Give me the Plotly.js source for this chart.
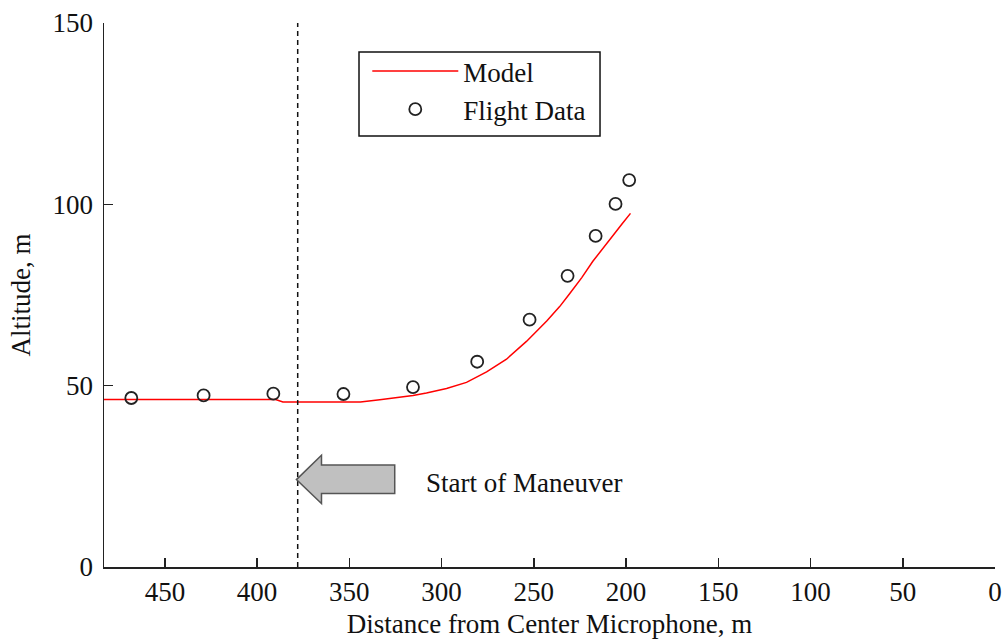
<!DOCTYPE html>
<html>
<head>
<meta charset="utf-8">
<script src="https://cdn.plot.ly/plotly-3.0.1.min.js"></script>
<style>html,body{margin:0;padding:0;background:#fff;}#chart{width:1006px;height:643px;}</style>
</head>
<body>
<div id="chart"></div>
<script>
// Model trajectory (red line)
var modelX = [483, 390, 386, 344, 333.5, 322.7, 315.5, 308.2, 297.3, 286.5, 275.6, 264.8, 254, 243, 236, 230.5, 224, 218, 212, 207, 202, 197.6];
var modelY = [46.2, 46.2, 45.5, 45.5, 46.1, 46.7, 47.3, 48.0, 49.2, 50.9, 53.8, 57.3, 62.2, 67.8, 71.8, 75.4, 79.8, 84.3, 88.3, 91.6, 94.7, 97.5];
// Flight data (open circles)
var flightX = [468.2, 429, 391.2, 353.2, 315.5, 280.7, 252.3, 231.7, 216.5, 205.7, 198.3];
var flightY = [46.6, 47.3, 47.8, 47.7, 49.6, 56.6, 68.2, 80.3, 91.3, 100.1, 106.7];
// Start of maneuver position
var maneuverStart = 378;
var xTicks = [450, 400, 350, 300, 250, 200, 150, 100, 50, 0];
var yTicks = [0, 50, 100, 150];

var FONT = 'Liberation Serif, Times New Roman, serif';
var AX = '#222';

var traces = [
  {x: modelX, y: modelY, type: 'scatter', mode: 'lines', name: 'Model',
   line: {color: '#ff0000', width: 1.5}},
  {x: flightX, y: flightY, type: 'scatter', mode: 'markers', name: 'Flight Data',
   marker: {symbol: 'circle-open', size: 12, color: '#222', line: {width: 1.8, color: '#222'}}}
];

// arrow polygon (left-pointing) in data coordinates
var arrowPath = 'M 378.7 24.1 L 365.1 30.8 L 365.1 28.1 L 325.4 28.1 L 325.4 20.3 L 365.1 20.3 L 365.1 17.5 Z';

var layout = {
  width: 1006, height: 643,
  margin: {l: 104, r: 11, t: 23, b: 76},
  paper_bgcolor: '#fff', plot_bgcolor: '#fff',
  font: {family: FONT, size: 27, color: '#111'},
  showlegend: true,
  legend: {
    x: 0.2955, xanchor: 'left', y: 0.9559, yanchor: 'top',
    borderwidth: 0, bgcolor: 'rgba(0,0,0,0)',
    font: {family: FONT, size: 27, color: '#111'},
    itemwidth: 86, tracegroupgap: 0
  },
  xaxis: {
    range: [483, 0], tickvals: xTicks, ticktext: xTicks.map(String),
    ticks: 'inside', ticklen: 9, tickwidth: 1.5, tickcolor: AX,
    showline: true, linecolor: AX, linewidth: 1.5, mirror: false,
    showgrid: false, zeroline: false,
    tickfont: {family: FONT, size: 27, color: '#111'},
    title: {text: 'Distance from Center Microphone, m', font: {family: FONT, size: 27, color: '#111'}, standoff: 8}
  },
  yaxis: {
    range: [0, 150], tickvals: yTicks, ticktext: yTicks.map(String),
    ticks: 'inside', ticklen: 9, tickwidth: 1.5, tickcolor: AX,
    showline: true, linecolor: AX, linewidth: 1.5, mirror: false,
    showgrid: false, zeroline: false,
    tickfont: {family: FONT, size: 27, color: '#111'},
    ticklabelstandoff: 4,
    title: {text: 'Altitude, m', font: {family: FONT, size: 27, color: '#111'}, standoff: 14}
  },
  shapes: [
    {type: 'line', xref: 'x', yref: 'y', x0: maneuverStart, x1: maneuverStart, y0: 0, y1: 150,
     line: {color: '#111', width: 1.5, dash: '5px,4px'}},
    {type: 'path', xref: 'x', yref: 'y', path: arrowPath,
     fillcolor: '#c0c0c0', line: {color: '#555', width: 1.5}},
    {type: 'rect', xref: 'paper', yref: 'paper', x0: 0.2862, x1: 0.5567, y0: 0.7923, y1: 0.9467,
     fillcolor: '#fff', line: {color: '#111', width: 1.5}, layer: 'above'}
  ],
  annotations: [
    {x: 309.7, y: 23.1, xref: 'x', yref: 'y', text: 'Start of Maneuver', showarrow: false,
     xanchor: 'left', yanchor: 'middle', font: {family: FONT, size: 27, color: '#111'}}
  ]
};

Plotly.newPlot('chart', traces, layout, {displayModeBar: false, staticPlot: true});
</script>
</body>
</html>
